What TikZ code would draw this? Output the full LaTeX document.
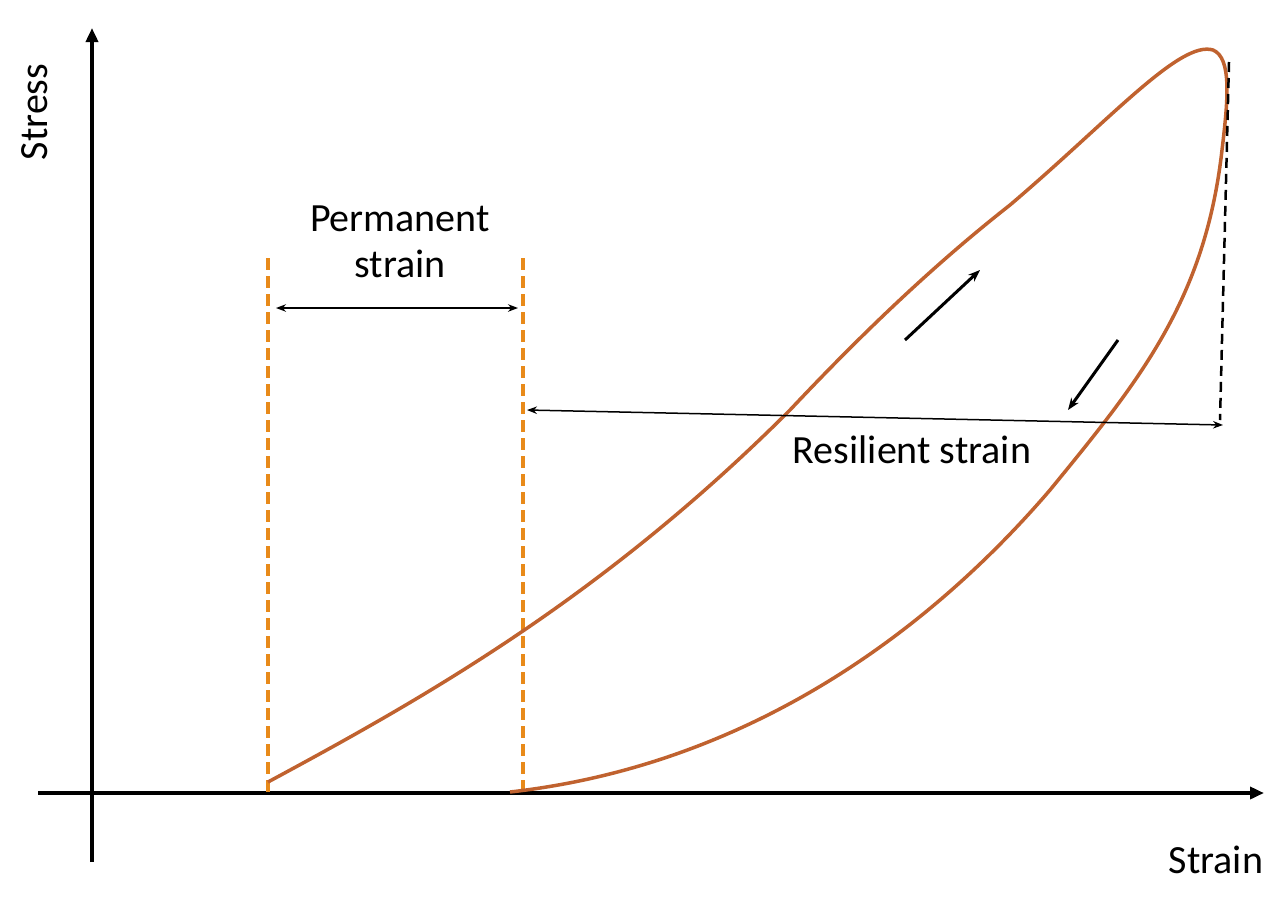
\documentclass[tikz,border=0pt]{standalone}
\usepackage{fontspec}
\setmainfont{Carlito}
\usetikzlibrary{arrows.meta}
\definecolor{loopc}{HTML}{C0622F}
\definecolor{dashc}{HTML}{E88A1A}
\tikzset{axis/.style={line width=3.5pt,-{Triangle[length=14pt,width=12pt]}},
 guide/.style={dashc,line width=3.5pt,dash pattern=on 12pt off 6pt},
 dim/.style={line width=1.5pt,{Stealth[length=10pt]}-{Stealth[length=10pt]}},
 dir/.style={line width=3pt,-{Stealth[length=12pt]}},
 lbl/.style={font=\fontsize{40}{46}\selectfont,align=center}}
\begin{document}
\begin{tikzpicture}[x=1pt,y=-1pt]
\useasboundingbox (0,0) rectangle (1288,900);
\coordinate (ya) at (92,862); \coordinate (yb) at (92,28);
\coordinate (xa) at (38,793); \coordinate (xb) at (1264,793);
\draw[axis] (ya) -- (yb);
\draw[axis] (xa) -- (xb);
\node[lbl,rotate=90] (stress) at (35,112) {Stress};
\node[lbl] (strain) at (1216,860) {Strain};
\coordinate (g1a) at (268,258); \coordinate (g1b) at (268,793);
\coordinate (g2a) at (523,258); \coordinate (g2b) at (523,793);
\draw[guide] (g1a) -- (g1b);
\draw[guide] (g2a) -- (g2b);
\coordinate (p1) at (276,308); \coordinate (p2) at (518,308);
\draw[dim] (p1) -- (p2);
\node[lbl] (perm) at (400,242) {Permanent\\strain};
\draw[loopc,line width=3.5pt,line join=round]
 (268,782) .. controls (420,700) and (600,600) .. (790,410)
 .. controls (870,325) and (940,260) .. (1010,205)
 .. controls (1110,120) and (1180,40) .. (1213,50)
 .. controls (1232,58) and (1228,100) .. (1222,150)
 .. controls (1205,300) and (1140,380) .. (1050,490)
 .. controls (930,630) and (750,765) .. (510,792);
\coordinate (d1) at (1229,62); \coordinate (d2) at (1220,420);
\draw[line width=2.5pt,dash pattern=on 10pt off 6pt] (d1) -- (d2);
\coordinate (r1) at (527,410); \coordinate (r2) at (1223,425);
\draw[dim] (r1) -- (r2);
\node[lbl] (res) at (912,450) {Resilient strain};
\coordinate (u1) at (905,340); \coordinate (u2) at (980,270);
\draw[dir] (u1) -- (u2);
\coordinate (v1) at (1118,340); \coordinate (v2) at (1068,410);
\draw[dir] (v1) -- (v2);
\end{tikzpicture}
\end{document}
